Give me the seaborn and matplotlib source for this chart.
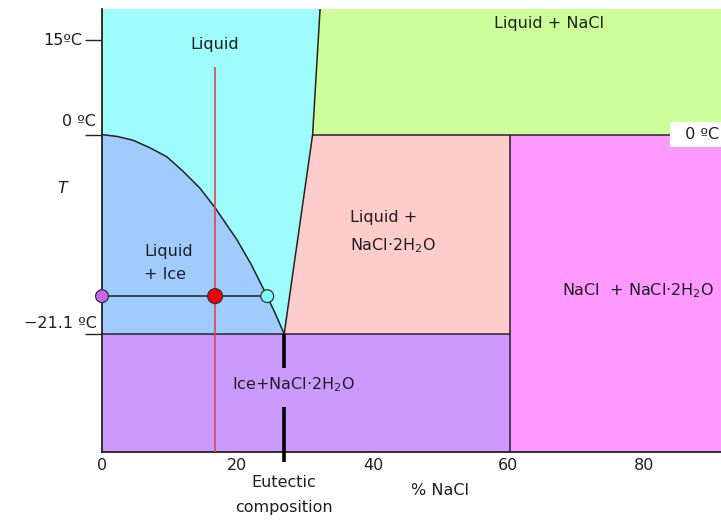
import numpy as np
import pandas as pd
import matplotlib.pyplot as plt
import seaborn as sns

# phase boundaries (% NaCl, temperature in degC)
liquidus_x = [0.0, 2.3, 4.6, 7.1, 9.6, 12.0, 14.5, 16.7, 19.9, 22.0, 24.1, 25.5, 26.9]
liquidus_T = [0.0, -0.2, -0.6, -1.4, -2.36, -3.9, -5.7, -7.75, -11.1, -13.7, -16.7,
              -18.8, -21.1]
solubility_x = [26.9, 31.1, 32.2]
solubility_T = [-21.1, 0.0, 20.0]
eutectic_x = 26.9
eutectic_T = -21.1
hydrate_x = 60.3
x_max = 91.4
T_top, T_bottom = 20.0, -33.6

# example mixture and its tie line
overall_x = 16.7
overall_T_start = 10.7
tie_T = -17.1
tie_x = [0.0, 16.7, 24.4]
tie_role = ['ice', 'overall', 'liquid']

ytick_vals = [15, 0, -21.1]
ytick_labels = ['15ºC', '0 ºC', '−21.1 ºC']
xtick_vals = [0, 20, 40, 60, 80]

# the drawing uses a larger scale below 0 degC than above it
k_up = 6.27 / 9.43


def fwd(t):
    t = np.asarray(t, dtype=float)
    return np.where(t > 0, t * k_up, t)


def inv(y):
    y = np.asarray(y, dtype=float)
    return np.where(y > 0, y / k_up, y)


sns.set_style('white')
plt.rcParams['font.family'] = ['DejaVu Sans']
txt = '#1e1e1e'
fs = 11.5

fig = plt.figure(figsize=(7.21, 5.23), dpi=100)
ax = fig.add_axes([102 / 721, 71 / 523, 619 / 721, 443 / 523])
ax.set_yscale('function', functions=(fwd, inv))
ax.set_xlim(0, x_max)
ax.set_ylim(T_bottom, T_top)

# regions
ax.fill([0] + liquidus_x + solubility_x[1:], [T_top] + liquidus_T + solubility_T[1:],
        color='#9ffcfc', lw=0)
ax.fill(liquidus_x + [0], liquidus_T + [eutectic_T], color='#9fcbff', lw=0)
ax.fill([solubility_x[1], solubility_x[2], x_max, x_max], [0, T_top, T_top, 0],
        color='#ccff99', lw=0)
ax.fill([eutectic_x, solubility_x[1], hydrate_x, hydrate_x], [eutectic_T, 0, 0, eutectic_T],
        color='#ffcccc', lw=0)
ax.fill([hydrate_x, x_max, x_max, hydrate_x], [0, 0, T_bottom, T_bottom],
        color='#ff99ff', lw=0)
ax.fill([0, hydrate_x, hydrate_x, 0], [eutectic_T, eutectic_T, T_bottom, T_bottom],
        color='#cc99ff', lw=0)

# boundaries
line_kw = dict(color='#222222', lw=1.1)
sns.lineplot(x=liquidus_x, y=liquidus_T, sort=False, estimator=None, ax=ax, **line_kw)
sns.lineplot(x=solubility_x, y=solubility_T, sort=False, estimator=None, ax=ax, **line_kw)
ax.hlines(0, solubility_x[1], x_max, **line_kw)
ax.hlines(eutectic_T, 0, hydrate_x, **line_kw)
ax.vlines(hydrate_x, T_bottom, 0, **line_kw)

# eutectic composition marker
ax.vlines([eutectic_x, eutectic_x], [eutectic_T, -28.8], [-24.7, -34.7], color='black',
          lw=2.6, clip_on=False, zorder=4)

# overall composition and tie line
ax.vlines(overall_x, T_bottom, overall_T_start, color='#e04550', lw=1.2, zorder=3)
ax.hlines(tie_T, 0, tie_x[-1], color='#222222', lw=1.1, zorder=3)
dots = pd.DataFrame({'x': tie_x, 'T': [tie_T] * 3, 'role': tie_role})
sns.scatterplot(data=dots, x='x', y='T', hue='role', size='role',
                palette={'ice': '#c866f0', 'overall': '#f00000', 'liquid': '#80fcfc'},
                sizes={'ice': 85, 'overall': 115, 'liquid': 85},
                edgecolor='#333333', linewidth=0.9, legend=False, clip_on=False,
                zorder=5, ax=ax)

# axes styling
for s in ['top', 'right']:
    ax.spines[s].set_visible(False)
for s in ['left', 'bottom']:
    ax.spines[s].set_linewidth(1.3)
    ax.spines[s].set_color('#222222')
ax.set_xlabel('')
ax.set_ylabel('')
ax.set_xticks(xtick_vals)
ax.tick_params(axis='x', bottom=True, direction='in', length=5, width=1, pad=4,
               labelsize=fs, labelcolor=txt, color='#222222')
ax.set_yticks(ytick_vals)
ax.yaxis.set_minor_locator(plt.NullLocator())
ax.tick_params(axis='y', which='major', left=True, direction='out', length=12.5, width=1,
               color='#222222', labelleft=False)

ylab = ax.get_yaxis_transform()
xlab = ax.get_xaxis_transform()
for val, lab, off in zip(ytick_vals, ytick_labels, [(-14.4, 0), (-4.3, 9.4), (-3.6, 7.2)]):
    ax.annotate(lab, xy=(0, val), xycoords=ylab, xytext=off, textcoords='offset points',
                ha='right', va='center', fontsize=fs, color=txt)
ax.annotate('T', xy=(0, -5.7), xycoords=ylab, xytext=(-28.8, 0), textcoords='offset points',
            ha='center', va='center', fontsize=fs, color=txt, style='italic')
ax.annotate('  0 ºC', xy=(1, 0), xycoords=ylab, xytext=(-1.5, 0), textcoords='offset points',
            ha='right', va='center', fontsize=fs, color=txt,
            bbox=dict(boxstyle='square,pad=0.3', fc='white', ec='none'))

ax.annotate('Eutectic', xy=(eutectic_x, 0), xycoords=xlab, xytext=(0, -22.3),
            textcoords='offset points', ha='center', va='center', fontsize=fs, color=txt)
ax.annotate('composition', xy=(eutectic_x, 0), xycoords=xlab, xytext=(0, -40.3),
            textcoords='offset points', ha='center', va='center', fontsize=fs, color=txt)
ax.annotate('% NaCl', xy=(49.9, 0), xycoords=xlab, xytext=(0, -27.4),
            textcoords='offset points', ha='center', va='center', fontsize=fs, color=txt)

# region labels
lab_kw = dict(fontsize=fs, color=txt, va='center')
ax.text(16.7, 14.4, 'Liquid', ha='center', **lab_kw)
ax.text(66.0, 17.7, 'Liquid + NaCl', ha='center', **lab_kw)
ax.text(36.6, -8.8, 'Liquid +', ha='left', **lab_kw)
ax.text(36.6, -11.8, 'NaCl·2H$_2$O', ha='left', **lab_kw)
ax.text(6.2, -12.4, 'Liquid', ha='left', **lab_kw)
ax.text(6.2, -14.85, '+ Ice', ha='left', **lab_kw)
ax.text(67.9, -16.5, 'NaCl  + NaCl·2H$_2$O', ha='left', **lab_kw)
ax.text(28.2, -26.5, 'Ice+NaCl·2H$_2$O', ha='center', **lab_kw)

fig.savefig('out.png', dpi=100)
